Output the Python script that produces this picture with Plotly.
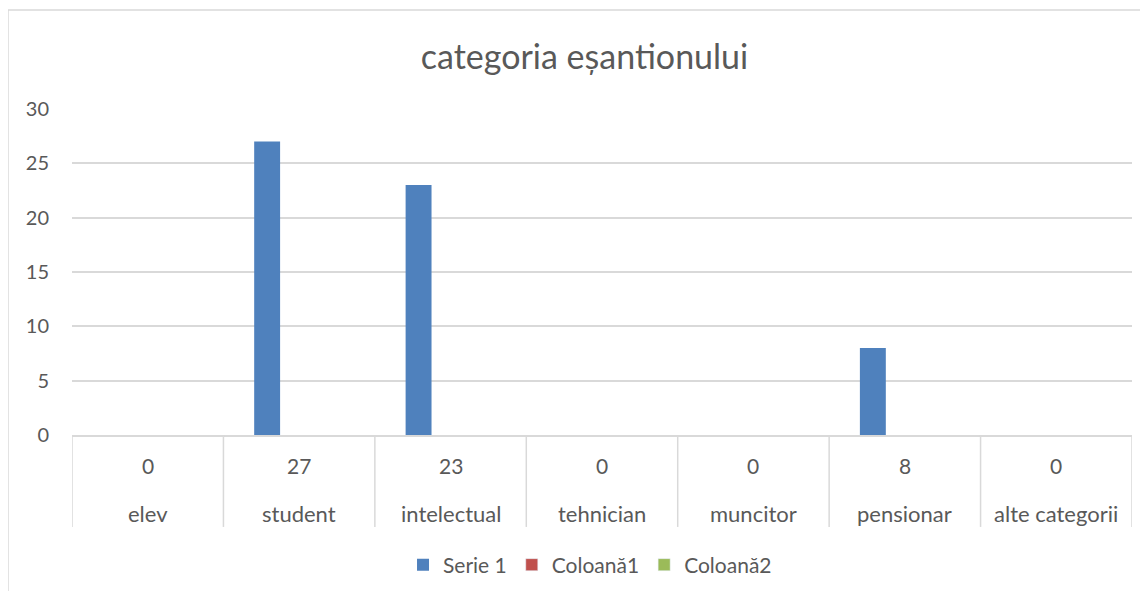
import plotly.graph_objects as go

categories = ["elev", "student", "intelectual", "tehnician", "muncitor", "pensionar", "alte categorii"]
serie1 = [0, 27, 23, 0, 0, 8, 0]
coloana1 = [None] * 7
coloana2 = [None] * 7
y_ticks = [0, 5, 10, 15, 20, 25, 30]

text_color = "#595959"
grid_color = "#d9d9d9"
font_name = "Lato"

fig = go.Figure()
# zero values are shown in the table only, no bar stub
fig.add_trace(go.Bar(x=categories, y=[v if v else None for v in serie1], name="Serie 1",
                     marker_color="#4f81bd", marker_line_width=0))
fig.add_trace(go.Bar(x=categories, y=coloana1, name="Coloană1", marker_color="#c0504d"))
fig.add_trace(go.Bar(x=categories, y=coloana2, name="Coloană2", marker_color="#9bbb59"))

# data table under the axis: values row and category row
for i, cat in enumerate(categories):
    fig.add_annotation(x=cat, y=0, xref="x", yref="paper", yanchor="middle",
                       yshift=-30, text=str(serie1[i]), showarrow=False,
                       font=dict(size=21, color=text_color, family=font_name))
    fig.add_annotation(x=cat, y=0, xref="x", yref="paper", yanchor="middle",
                       yshift=-78, text=cat, showarrow=False,
                       font=dict(size=22, color=text_color, family=font_name))

# vertical cell borders of the data table
for i in range(len(categories) + 1):
    fig.add_shape(type="line", xref="x", yref="paper", x0=i - 0.5, x1=i - 0.5,
                  y0=0, y1=-0.282, line=dict(color=grid_color, width=1.5))

# chart frame (left and top edges)
fig.add_shape(type="line", xref="paper", yref="paper", x0=-0.0604, x1=-0.0604,
              y0=1.3037, y1=-0.6, line=dict(color=grid_color, width=1.5))
fig.add_shape(type="line", xref="paper", yref="paper", x0=-0.0604, x1=1.05,
              y0=1.3037, y1=1.3037, line=dict(color=grid_color, width=1.5))

# page body has an 8px margin, so the figure is 8px smaller each way
fig.update_layout(
    width=1140, height=583,
    margin=dict(l=64, r=16, t=101, b=156, autoexpand=False),
    plot_bgcolor="white", paper_bgcolor="white",
    barmode="group", bargap=0.366, bargroupgap=0.19,
    font=dict(family=font_name, color=text_color),
    title=dict(text="categoria eșantionului", x=0.4835, xref="paper", xanchor="center",
               y=1 - 49 / 583, yref="container", yanchor="middle",
               font=dict(size=34, color=text_color, family=font_name)),
    legend=dict(orientation="h", x=0.4887, xanchor="center",
                y=1 - 557 / 583, yref="container", yanchor="middle",
                font=dict(size=21, color=text_color, family=font_name)),
    showlegend=True,
)
fig.update_xaxes(showticklabels=False, ticks="", showline=True, linecolor=grid_color,
                 linewidth=1.5, showgrid=False, range=[-0.5, 6.5])
fig.update_yaxes(range=[0, 30], tickvals=y_ticks, showgrid=True, gridcolor=grid_color,
                 gridwidth=1.5, zeroline=False, ticklabelstandoff=22,
                 tickfont=dict(size=20, color=text_color, family=font_name))

fig.write_html("out.html")
